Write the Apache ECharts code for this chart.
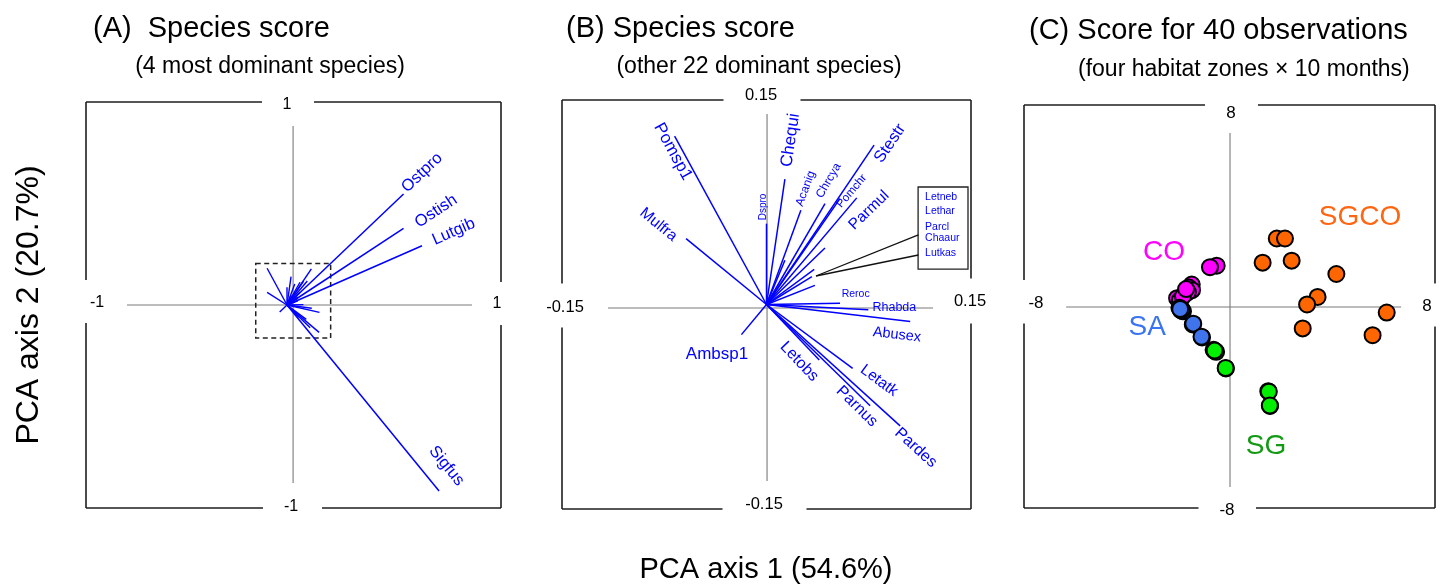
<!DOCTYPE html>
<html><head><meta charset="utf-8">
<script src="https://cdn.jsdelivr.net/npm/echarts@6/dist/echarts.min.js"></script>
<style>html,body{margin:0;padding:0;background:#fff}#c{width:1440px;height:586px}</style>
</head><body><div id="c"></div>
<script>
// ---------- DATA ----------
// Panel A: 4 most dominant species (PCA loadings, axis1 / axis2)
const domNames = ['Ostpro', 'Ostish', 'Lutgib', 'Sigfus'];
const domX = [0.574, 0.574, 0.665, 0.749];
const domY = [0.547, 0.378, 0.292, -0.916];

// Panel B: other 22 dominant species
const spNames = ['Pomsp1','Mulfra','Ambsp1','Dspro','Chequi','Acanig','Chrcya','Pomchr','Stestr','Parmul',
                 'Letneb','Lethar','Parcl','Chaaur','Lutkas','Reroc','Rhabda','Abusex','Letobs','Letatk','Parnus','Pardes'];
const spX = [-0.0674,-0.0590,-0.0184, 0.0000, 0.0135, 0.0252, 0.0429, 0.0662, 0.0789, 0.0429,
              0.0350, 0.0355, 0.0135, 0.0539, 0.0333, 0.0539, 0.0747, 0.1054, 0.0387, 0.0632, 0.0760, 0.0980];
const spY = [ 0.1235, 0.0483,-0.0221, 0.0593, 0.0919, 0.0691, 0.0740, 0.0782, 0.1169, 0.0415,
              0.0257, 0.0140, 0.0324, 0.0777, 0.0204, 0.0010,-0.0039,-0.0125,-0.0407,-0.0468,-0.0743,-0.0890];
// the same 22 species as they appear (unlabelled) in panel A
const spAX = [-0.098,-0.098,-0.036, 0.000, 0.020, 0.038, 0.064, 0.100, 0.120, 0.064,
               0.053, 0.053, 0.020, 0.081, 0.050, 0.081, 0.122, 0.160, 0.058, 0.095, 0.114, 0.158];
const spAY = [ 0.181, 0.062,-0.034, 0.088, 0.140, 0.104, 0.112, 0.118, 0.178, 0.062,
               0.039, 0.021, 0.049, 0.117, 0.031, 0.002,-0.016,-0.036,-0.061,-0.071,-0.112,-0.135];
const boxedSpecies = ['Letneb','Lethar','Parcl','Chaaur','Lutkas'];

// Panel C: observation scores (4 zones x 10 months)
const zoneNames = ['CO', 'SA', 'SG', 'SGCO'];
const coX = [-0.50,-0.76,-1.47,-1.58,-1.46,-1.62,-2.04,-1.93,-1.81,-1.69];
const coY = [ 1.62, 1.56, 0.87, 0.75, 0.65, 0.57, 0.33, 0.25, 0.41, 0.69];
const saX = [-1.88,-1.95,-1.81,-1.90,-1.43,-1.07,-1.85,-1.41,-1.09,-1.92];
const saY = [-0.09,-0.05,-0.19,-0.14,-0.71,-1.23,-0.12,-0.68,-1.20,-0.10];
const sgX = [-0.56,-0.62,-0.52,-0.14, 1.51, 1.58,-0.58, 1.53, 1.57,-0.15];
const sgY = [-1.77,-1.72,-1.80,-2.46,-3.36,-3.95,-1.75,-3.38,-3.93,-2.44];
const sgcoX = [1.84, 2.16, 1.29, 2.42, 4.16, 3.43, 3.02, 6.12, 2.85, 5.57];
const sgcoY = [2.70, 2.70, 1.74, 1.82, 1.29, 0.38, 0.08,-0.24,-0.87,-1.14];

// tick labels (top, bottom, left, right)
const ticksA = ['1', '-1', '-1', '1'];
const ticksB = ['0.15', '-0.15', '-0.15', '0.15'];
const ticksC = ['8', '-8', '-8', '8'];

// ---------- LAYOUT / STYLE ----------
const FF = '"Liberation Sans", Arial, Helvetica, sans-serif';
const BLUE = '#0000ff';
const zoneColors = {CO: '#ff00ff', SA: '#3f74ec', SG: '#00ee00', SGCO: '#ff6600'};
const zoneTextColors = {CO: '#ff00ff', SA: '#3a74ee', SG: '#139a13', SGCO: '#ff6611'};
const zoneLabelPos = {CO: [-2.55, 2.15], SA: [-3.20, -0.83], SG: [1.42, -5.53], SGCO: [5.08, 3.53]};

const labA = {
  Ostpro: {off: [18.5, -21.3], size: 16.5},
  Ostish: {off: [32.5, -17], size: 16.5},
  Lutgib: {off: [31.7, -14], size: 16.5},
  Sigfus: {off: [7.4, -25], size: 16.5}
};
const labB = {
  Pomsp1: {off: [-1.7, 15.6], size: 17},
  Mulfra: {off: [-27.7, -14], size: 15.5},
  Ambsp1: {off: [-24.4, 20], size: 17, rot: 0},
  Dspro:  {off: [-3, -16.7], size: 10},
  Chequi: {off: [5.7, -39], size: 17},
  Acanig: {off: [4.7, -21.7], size: 12},
  Chrcya: {off: [3.7, -23], size: 12},
  Pomchr: {off: [-5, -6.8], size: 11.5},
  Stestr: {off: [16, -1.7], size: 16.5},
  Parmul: {off: [44, -37.6], size: 15.5},
  Reroc:  {off: [15.7, -8.6], size: 10.5, rot: 0},
  Rhabda: {off: [26, -2.7], size: 12.5, rot: 0},
  Abusex: {off: [-13.3, 13.3], size: 14.5},
  Letobs: {off: [-20, 1.7], size: 16},
  Letatk: {off: [26.3, 12.4], size: 15.5},
  Parnus: {off: [-13.3, 0.6], size: 16},
  Pardes: {off: [15.7, 22], size: 16}
};

const ranges = [
  {x: [-0.99, 1.054], y: [-1, 1]},
  {x: [-0.15, 0.15], y: [-0.15, 0.15]},
  {x: [-8, 8], y: [-8, 8]}
];
const frames = [
  {ticks: ticksA, font: 16, gaps: {t: [-25, 27], b: [-24, 35], l: [-25, 18], r: [-23, 20]},
   lo: {t: [0, 3], b: [4, -1], l: [11, -2], r: [-4, -1]}, hl: [-0.788, 0.911, 0], vl: [0.030, 0.882, -0.877]},
  {ticks: ticksB, font: 16.5, gaps: {t: [-43, 34], b: [-44, 40], l: [-21, 23], r: [-26, 19]},
   lo: {t: [-5.5, -5], b: [-2.5, -5], l: [3, 2.5], r: [-1, -3.5]}, hl: [-0.1163, 0.1222, -0.0026], vl: [0.0004, 0.1398, -0.1295]},
  {ticks: ticksC, font: 17, gaps: {t: [-24.5, 28.5], b: [-31, 26.5], l: [-26.5, 17], r: [-23, 20]},
   lo: {t: [1.5, 8], b: [-2.5, 2], l: [12, -3.5], r: [-8, -0.5]}, hl: [-6.36, 6.68, -0.02], vl: [0.02, 6.89, -7.17]}
];

// ---------- helpers ----------
function txt(x, y, text, size, color, rot, align) {
  const a = align || 'center';
  return {type: 'text', x: x, y: y, rotation: rot || 0,
    style: {text: text, x: 0, y: 0, fill: color || '#000', font: size + 'px ' + FF,
            align: a, verticalAlign: 'middle', textAlign: a, textVerticalAlign: 'middle'}};
}
function seg(x1, y1, x2, y2, color, w, dash) {
  return {type: 'line', shape: {x1: x1, y1: y1, x2: x2, y2: y2},
    style: {stroke: color, lineWidth: w, lineDash: dash || null, lineCap: 'butt'}};
}

function frameSeries(i) {
  const f = frames[i], r = ranges[i];
  return {type: 'custom', xAxisIndex: i, yAxisIndex: i, data: [[0, 0]], silent: true, z: 1,
    renderItem: function (params, api) {
      const tl = api.coord([r.x[0], r.y[1]]), br = api.coord([r.x[1], r.y[0]]), o = api.coord([0, 0]);
      const L = tl[0], T = tl[1], R = br[0], B = br[1], cx = o[0], cy = o[1], g = f.gaps;
      const K = '#1e1e1e', W = 1.6;
      const ch = [
        seg(L, T, cx + g.t[0], T, K, W), seg(cx + g.t[1], T, R, T, K, W),
        seg(L, B, cx + g.b[0], B, K, W), seg(cx + g.b[1], B, R, B, K, W),
        seg(L, T, L, cy + g.l[0], K, W), seg(L, cy + g.l[1], L, B, K, W),
        seg(R, T, R, cy + g.r[0], K, W), seg(R, cy + g.r[1], R, B, K, W)
      ];
      const h1 = api.coord([f.hl[0], f.hl[2]]), h2 = api.coord([f.hl[1], f.hl[2]]);
      const v1 = api.coord([f.vl[0], f.vl[1]]), v2 = api.coord([f.vl[0], f.vl[2]]);
      ch.push(seg(h1[0], h1[1], h2[0], h2[1], '#7a7a7a', 1.1));
      ch.push(seg(v1[0], v1[1], v2[0], v2[1], '#7a7a7a', 1.1));
      ch.push(txt(cx + f.lo.t[0], T + f.lo.t[1], f.ticks[0], f.font));
      ch.push(txt(cx + f.lo.b[0], B + f.lo.b[1], f.ticks[1], f.font));
      ch.push(txt(L + f.lo.l[0], cy + f.lo.l[1], f.ticks[2], f.font));
      ch.push(txt(R + f.lo.r[0], cy + f.lo.r[1], f.ticks[3], f.font));
      return {type: 'group', children: ch};
    }};
}

function vecSeries(gi, xs, ys, names, lay, width) {
  return {type: 'custom', xAxisIndex: gi, yAxisIndex: gi, silent: true, z: 3,
    data: xs.map(function (x, i) { return [x, ys[i]]; }),
    renderItem: function (params, api) {
      const o = api.coord([0, 0]);
      const t = api.coord([api.value(0), api.value(1)]);
      const ch = [seg(o[0], o[1], t[0], t[1], BLUE, width)];
      const nm = names ? names[params.dataIndex] : null;
      const L = nm && lay ? lay[nm] : null;
      if (L) {
        let ang = Math.atan2(o[1] - t[1], t[0] - o[0]);
        if (ang > Math.PI / 2 + 1e-6) ang -= Math.PI;
        if (ang < -Math.PI / 2 - 1e-6) ang += Math.PI;
        if (L.rot !== undefined) ang = L.rot * Math.PI / 180;
        ch.push(txt(t[0] + L.off[0], t[1] + L.off[1], nm, L.size, BLUE, ang));
      }
      return {type: 'group', children: ch};
    }};
}

// dashed zoom box in panel A
const dashBox = {x: [-0.154, 0.215], y: [-0.163, 0.205]};
// callout box in panel B
const callout = {box: {x: [0.1112, 0.1478], y: [0.0260, 0.0862]}, apex: [0.0363, 0.0209],
  from: [[0.1114, 0.0510], [0.1114, 0.0363]], textX: 0.1163, textY: [0.0789, 0.0684, 0.0571, 0.0486, 0.0380]};

const extraA = {type: 'custom', xAxisIndex: 0, yAxisIndex: 0, data: [[0, 0]], silent: true, z: 2,
  renderItem: function (params, api) {
    const a = api.coord([dashBox.x[0], dashBox.y[1]]), b = api.coord([dashBox.x[1], dashBox.y[0]]);
    return {type: 'rect', shape: {x: a[0], y: a[1], width: b[0] - a[0], height: b[1] - a[1]},
      style: {fill: null, stroke: '#222', lineWidth: 1.5, lineDash: [5, 3.5]}};
  }};

const extraB = {type: 'custom', xAxisIndex: 1, yAxisIndex: 1, data: [[0, 0]], silent: true, z: 4,
  renderItem: function (params, api) {
    const a = api.coord([callout.box.x[0], callout.box.y[1]]), b = api.coord([callout.box.x[1], callout.box.y[0]]);
    const ap = api.coord(callout.apex);
    const ch = [{type: 'rect', shape: {x: a[0], y: a[1], width: b[0] - a[0], height: b[1] - a[1]},
      style: {fill: '#fff', stroke: '#222', lineWidth: 1.3}}];
    callout.from.forEach(function (p) { const q = api.coord(p); ch.push(seg(q[0], q[1], ap[0], ap[1], '#111', 1.3)); });
    boxedSpecies.forEach(function (nm, k) {
      const q = api.coord([callout.textX, callout.textY[k]]);
      ch.push(txt(q[0], q[1], nm, 10.5, BLUE, 0, 'left'));
    });
    return {type: 'group', children: ch};
  }};

const zoneLabels = {type: 'custom', xAxisIndex: 2, yAxisIndex: 2, silent: true, z: 6,
  data: zoneNames.map(function (z) { return zoneLabelPos[z]; }),
  renderItem: function (params, api) {
    const p = api.coord([api.value(0), api.value(1)]);
    const nm = zoneNames[params.dataIndex];
    return txt(p[0], p[1], nm, 28, zoneTextColors[nm]);
  }};

function zoneScatter(name, xs, ys, z) {
  return {type: 'scatter', name: name, xAxisIndex: 2, yAxisIndex: 2, z: z, silent: true,
    data: xs.map(function (x, i) { return [x, ys[i]]; }),
    symbol: 'circle', symbolSize: 16,
    itemStyle: {color: zoneColors[name], borderColor: '#000', borderWidth: 2, opacity: 1}};
}

const grids = [
  {left: 86, top: 102, width: 415, height: 406},
  {left: 562, top: 100, width: 409, height: 409},
  {left: 1024, top: 105, width: 411, height: 403}
];

const option = {
  animation: false,
  backgroundColor: '#ffffff',
  grid: grids,
  xAxis: ranges.map(function (r, i) { return {type: 'value', gridIndex: i, min: r.x[0], max: r.x[1], show: false}; }),
  yAxis: ranges.map(function (r, i) { return {type: 'value', gridIndex: i, min: r.y[0], max: r.y[1], show: false}; }),
  graphic: {elements: [
    txt(93, 29, '(A)  Species score', 29, '#000', 0, 'left'),
    txt(270, 67, '(4 most dominant species)', 23),
    txt(566, 29, '(B) Species score', 29, '#000', 0, 'left'),
    txt(759, 67, '(other 22 dominant species)', 23),
    txt(1029, 31, '(C) Score for 40 observations', 29, '#000', 0, 'left'),
    txt(1078, 70, '(four habitat zones \u00d7 10 months)', 23, '#000', 0, 'left'),
    txt(29, 305, 'PCA axis 2 (20.7%)', 32, '#000', Math.PI / 2),
    txt(766, 570, 'PCA axis 1 (54.6%)', 29)
  ]},
  series: [
    frameSeries(0), frameSeries(1), frameSeries(2),
    extraA,
    vecSeries(0, spAX, spAY, null, null, 1.4),
    vecSeries(0, domX, domY, domNames, labA, 1.5),
    vecSeries(1, spX, spY, spNames, labB, 1.5),
    extraB,
    zoneScatter('CO', coX, coY, 5),
    zoneScatter('SA', saX, saY, 6),
    zoneScatter('SG', sgX, sgY, 7),
    zoneScatter('SGCO', sgcoX, sgcoY, 8),
    zoneLabels
  ]
};
const chart = echarts.init(document.getElementById('c'));
chart.setOption(option);
</script>
</body></html>
